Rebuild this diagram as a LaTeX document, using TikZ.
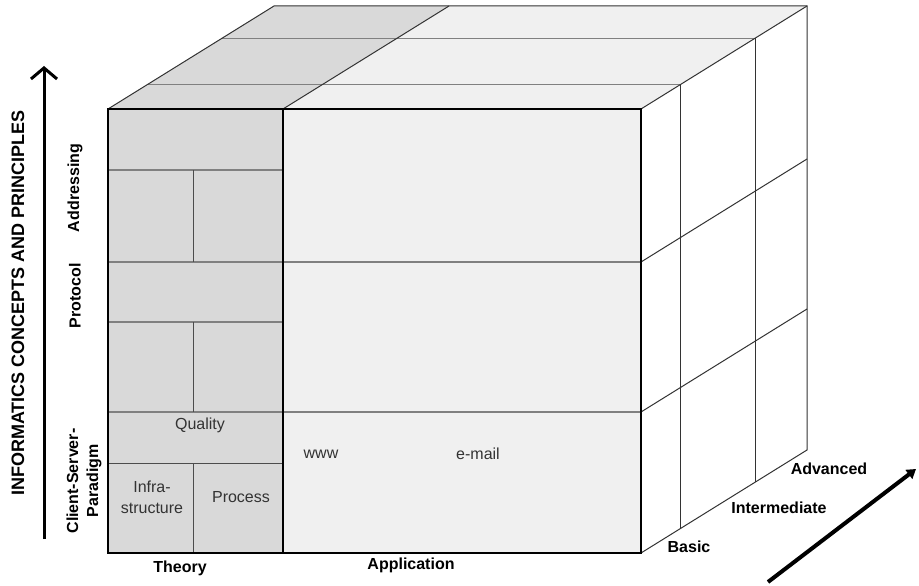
\documentclass[tikz,border=0pt]{standalone}
\usepackage{fontspec}
\setmainfont{Liberation Sans}
\usetikzlibrary{arrows.meta, calc}

\begin{document}
\begin{tikzpicture}[x=1pt,y=-1pt,
  edge/.style={black!80,line width=1pt},
  gridline/.style={black!50,line width=1.2pt},
  inner/.style={black!70,line width=0.8pt},
  lab/.style={font=\fontsize{16}{20}\selectfont\bfseries,inner sep=0pt},
  cell/.style={font=\fontsize{16}{21}\selectfont,text=black!80,align=center,inner sep=0pt}]

  \useasboundingbox (0,0) rectangle (919,586);

  % front face
  \coordinate (f0) at (108,109);
  \coordinate (f1) at (283,109);
  \coordinate (f2) at (641,109);
  \coordinate (f3) at (641,553);
  \coordinate (f4) at (108,553);
  \coordinate (f5) at (283,553);
  % back face (depth 166,-103)
  \coordinate (b0) at (274,6);
  \coordinate (b1) at (449,6);
  \coordinate (b2) at (807,6);
  \coordinate (b3) at (807,450);

  % faces
  \fill[black!15] (f0) rectangle (f5);
  \fill[black!6]  (f1) rectangle (f3);
  \fill[black!15] (f0) -- (f1) -- (b1) -- (b0) -- cycle;
  \fill[black!6]  (f1) -- (f2) -- (b2) -- (b1) -- cycle;
  \fill[white]    (f2) -- (b2) -- (b3) -- (f3) -- cycle;

  % depth layers: basic, intermediate, advanced
  \foreach \t in {0.235,0.687} {
    \draw[gridline] ($(f0)!\t!(b0)$) -- ($(f2)!\t!(b2)$);
    \draw[edge] ($(f2)!\t!(b2)$) -- ($(f3)!\t!(b3)$);
  }

  % rows
  \foreach \y in {262,412} {
    \draw[gridline] (108,\y) -- (641,\y);
    \draw[edge] (641,\y) -- ++(166,-103);
  }

  % theory cells
  \draw[gridline] (108,170) -- (283,170) (108,322) -- (283,322);
  \draw[inner] (108,463) -- (283,463);
  \draw[inner] (193,170) -- (193,262) (193,322) -- (193,412) (193,463) -- (193,553);

  % outline
  \draw[edge] (f0) -- (b0) -- (b2) -- (b3) -- (f3);
  \draw[edge] (f1) -- (b1) (f2) -- (b2);
  \draw[black,line width=1.3pt] (f0) rectangle (f3) (f1) -- (f5);

  % labels
  \node[lab,font=\fontsize{18}{20}\selectfont\bfseries,rotate=90] (concepts) at (18,303) {INFORMATICS CONCEPTS AND PRINCIPLES};
  \node[lab,rotate=90] (addr) at (75,188) {Addressing};
  \node[lab,rotate=90] (proto) at (75,296) {Protocol};
  \node[lab,rotate=90,align=center] (csp) at (84,481) {Client-Server-\\Paradigm};
  \node[lab] (theory) at (180,568) {Theory};
  \node[lab] (appl) at (411,565) {Application};
  \node[lab] (basic) at (689,547) {Basic};
  \node[lab] (inter) at (779,508) {Intermediate};
  \node[lab] (adv) at (829,469) {Advanced};

  \node[cell] (quality) at (200,425) {Quality};
  \node[cell] (infra) at (152,497) {Infra-\\structure};
  \node[cell] (process) at (241,497) {Process};
  \node[cell] (www) at (321,454) {www};
  \node[cell] (email) at (478,454) {e-mail};

  % axes
  \coordinate (up0) at (44,539);
  \coordinate (up1) at (44,66);
  \draw[line width=3pt,-{Straight Barb[length=11pt,width=26pt]}] (up0) -- (up1);
  \coordinate (dp0) at (768,582);
  \coordinate (dp1) at (916,469);
  \draw[line width=4pt,-{Triangle[length=9pt,width=11pt]}] (dp0) -- (dp1);
\end{tikzpicture}
\end{document}
